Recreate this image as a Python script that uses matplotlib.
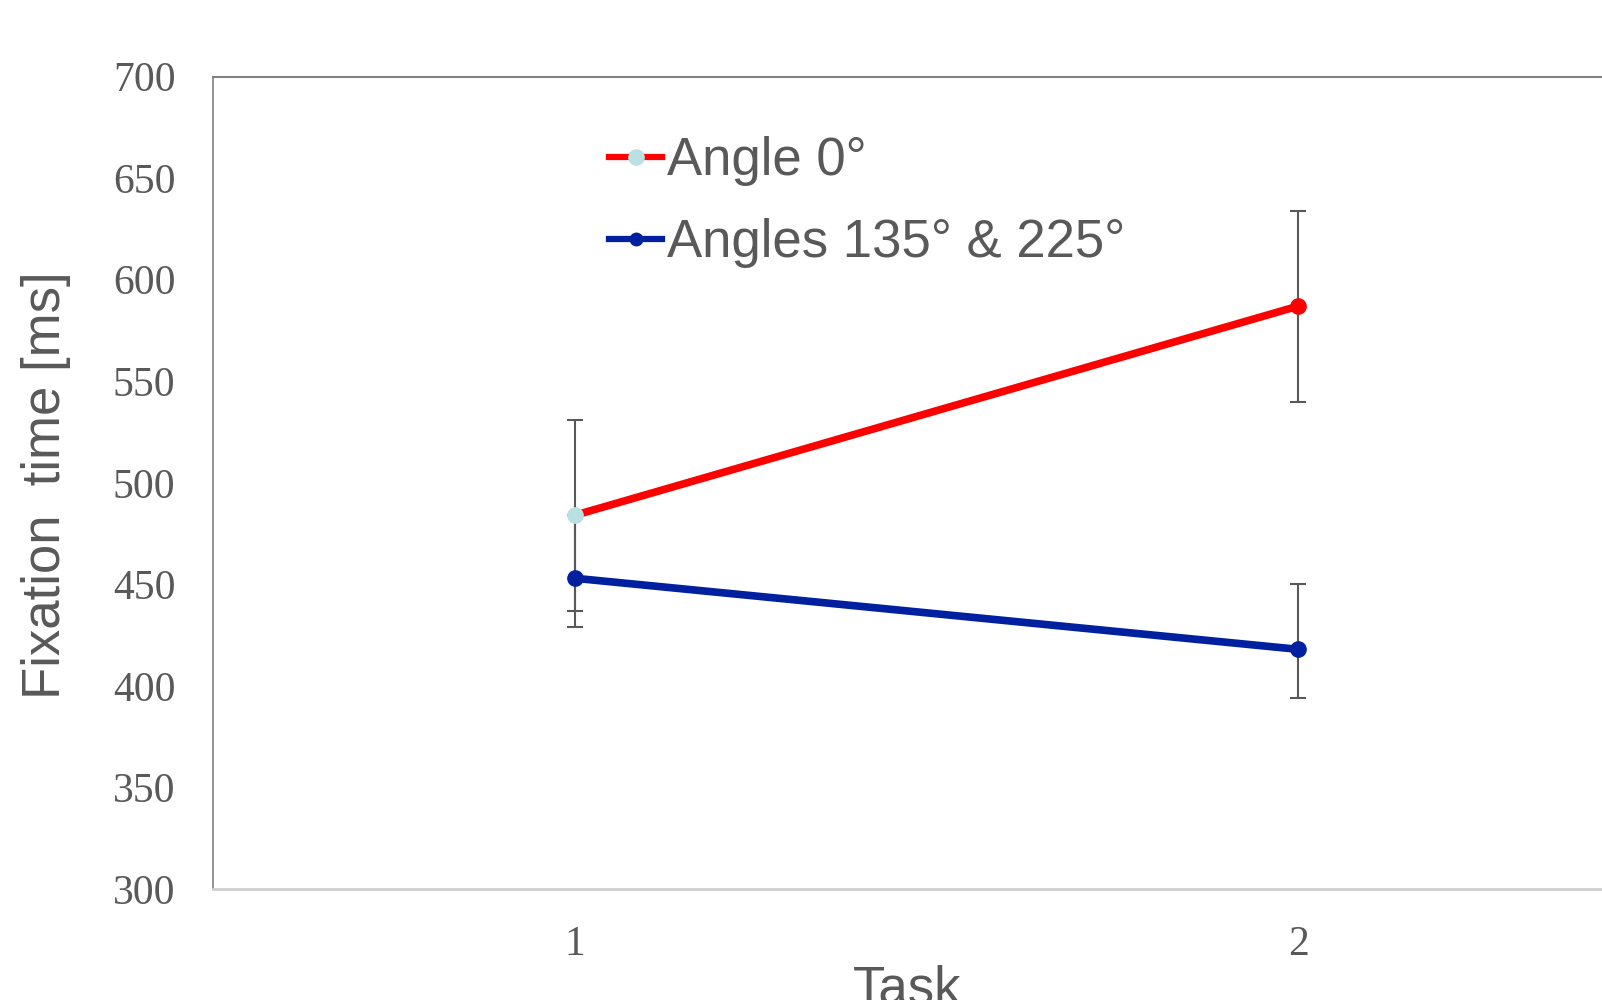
import matplotlib.pyplot as plt
import numpy as np
from matplotlib.lines import Line2D

# Data
tasks = [1, 2]
angle0 = [484, 587]
angle0_err = [47, 47]
angles135 = [453, 418]
angles135_err_low = [24, 24]
angles135_err_high = [31, 32]

fig = plt.figure(figsize=(16.02, 10.0), dpi=100)
# axes run past the right edge of the figure, as in the reference
ax = fig.add_axes([213/1602, 1-889/1000, (1660-213)/1602, (889-76.6)/1000])

err_color = '#595959'
ax.errorbar(tasks, angle0, yerr=angle0_err, fmt='none', ecolor=err_color,
            elinewidth=1.5, capsize=6, capthick=1.5, zorder=2)
ax.errorbar(tasks, angles135, yerr=[angles135_err_low, angles135_err_high], fmt='none',
            ecolor=err_color, elinewidth=1.5, capsize=6, capthick=1.5, zorder=2)

ax.plot(tasks, angles135, color='#00209F', lw=5.5, marker='o', ms=11,
        solid_capstyle='round', zorder=3)
ax.plot(tasks, angle0, color='#FF0000', lw=5.5, solid_capstyle='round', zorder=4)
ax.plot(tasks[0], angle0[0], 'o', color='#B9E0E3', ms=11, zorder=5)
ax.plot(tasks[1], angle0[1], 'o', color='#FF0000', ms=11, zorder=5)

ax.set_xlim(0.5, 2.5)
ax.set_ylim(300, 700)
ax.set_yticks(np.arange(300, 701, 50))
ax.set_xticks(tasks)
ax.tick_params(length=0, labelsize=30, labelcolor='#595959')
ax.tick_params(axis='y', pad=27)
ax.tick_params(axis='x', pad=26)
for lab in ax.get_xticklabels() + ax.get_yticklabels():
    lab.set_family('Liberation Serif')

ax.spines['left'].set_color('#808080')
ax.spines['left'].set_linewidth(1.2)
ax.spines['top'].set_color('#808080')
ax.spines['top'].set_linewidth(1.5)
ax.spines['bottom'].set_color('#D0D0D0')
ax.spines['bottom'].set_linewidth(2)
ax.spines['right'].set_visible(False)

# legend handles
h0 = Line2D([], [], color='#FF0000', lw=4.5, marker='o', ms=11,
            markerfacecolor='#B9E0E3', markeredgecolor='#B9E0E3')
h1 = Line2D([], [], color='#00209F', lw=4.5, marker='o', ms=9)
leg = fig.legend([h0, h1], ['Angle 0°', 'Angles 135° & 225°'],
                 loc='upper left', bbox_to_anchor=(583/1602, 1-110/1000),
                 frameon=False, handlelength=1.0, handletextpad=0.1,
                 labelspacing=0.6, borderpad=0,
                 prop={'family': 'Liberation Sans', 'size': 38})
for t in leg.get_texts():
    t.set_color('#595959')

fig.text(46/1602, 1-485/1000, 'Fixation  time [ms]', rotation=90, ha='center', va='center',
         fontsize=38, family='Liberation Sans', color='#595959')
fig.text(907/1602, 1-965/1000, 'Task', ha='center', va='top',
         fontsize=38, family='Liberation Sans', color='#595959')

fig.savefig('out.png', dpi=100)
